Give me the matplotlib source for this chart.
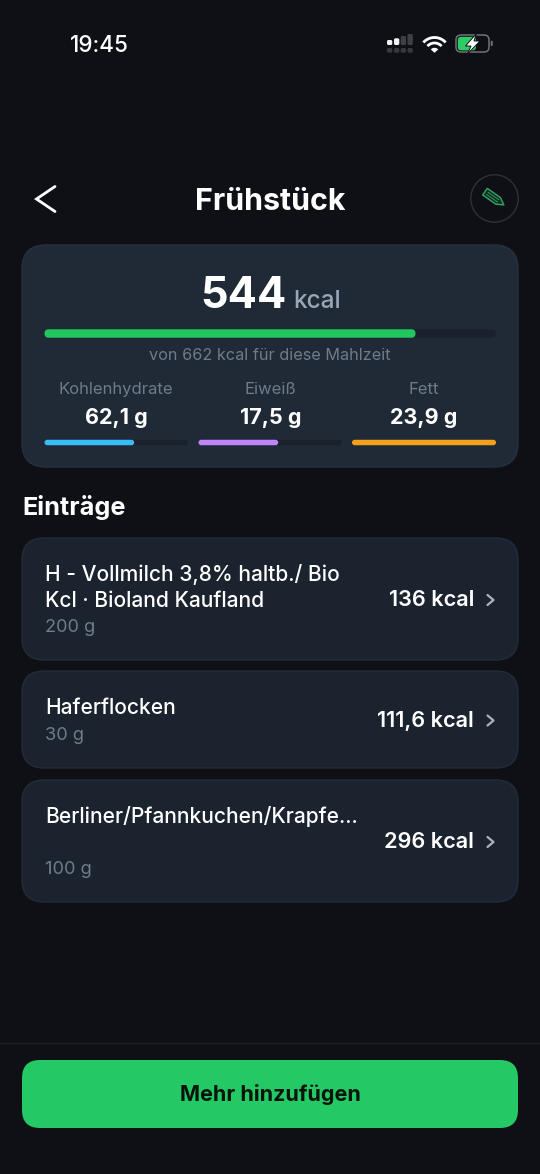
import numpy as np
import matplotlib
matplotlib.use("Agg")
import matplotlib.pyplot as plt
from matplotlib.patches import FancyBboxPatch, Circle, Polygon

plt.rcParams['font.family'] = ['Inter', 'DejaVu Sans']

# Data
kcal_eaten = 544
kcal_goal = 662
macro_names = ["Kohlenhydrate", "Eiweiß", "Fett"]
macro_values = [62.1, 17.5, 23.9]
macro_goals = [99.4, 31.5, 23.9]
macro_colors = ["#38bdf8", "#c084fc", "#f2a11c"]
entry_names = [["H - Vollmilch 3,8% haltb./ Bio", "Kcl · Bioland Kaufland"], ["Haferflocken"], ["Berliner/Pfannkuchen/Krapfe..."]]
entry_amounts = ["200 g", "30 g", "100 g"]
entry_kcal = ["136 kcal", "111,6 kcal", "296 kcal"]

BG = "#0e1015"
CARD = "#202a37"
ENTRY = "#1b232f"
TRACK = "#1a212b"
MUTED = "#707b8a"

fig = plt.figure(figsize=(5.4, 11.74), dpi=100, facecolor=BG)
ax = fig.add_axes([0, 0, 1, 1])
ax.set_xlim(0, 540)
ax.set_ylim(1174, 0)
ax.axis("off")

def rrect(x0, y0, x1, y1, r, fc, ec="none", lw=0, z=1):
    p = FancyBboxPatch((x0 + r, y0 + r), x1 - x0 - 2 * r, y1 - y0 - 2 * r,
                       boxstyle=f"round,pad={r},rounding_size={r}", fc=fc, ec=ec, lw=lw, zorder=z)
    ax.add_patch(p)

def txt(x, y, s, size, color="white", weight="normal", ha="center", va="baseline", **kw):
    return ax.text(x, y, s, fontsize=size, color=color, fontweight=weight, ha=ha, va=va, zorder=5, **kw)

def bar(x0, x1, y, h, frac, color):
    rrect(x0, y - h / 2, x1, y + h / 2, h / 2, TRACK, z=2)
    rrect(x0, y - h / 2, x0 + (x1 - x0) * min(frac, 1), y + h / 2, h / 2, color, z=3)

# Status bar
txt(99.5, 51.7, "19:45", 16.2, weight="medium")
sig_x = [387, 394, 400.7, 407.5]
sig_top = [40, 38.3, 36, 34]
sig_on = [1, 1, 0, 0]
for x, top, on in zip(sig_x, sig_top, sig_on):
    rrect(x, top, x + 5.3, 45, 1.5, "#f2f2f2" if on else "#3e4045", z=3)
    rrect(x, 48, x + 5.3, 52.7, 1.5, "#36383d", z=3)
# wifi
for r in [15, 9.5]:
    t = np.radians(np.linspace(222, 318, 30))
    ax.plot(434.5 + r * np.cos(t), 52.5 + r * np.sin(t), color="white", lw=2.0, solid_capstyle="butt", zorder=5)
t = np.radians(np.linspace(222, 318, 12))
ax.add_patch(Polygon(np.vstack([[434.5, 52.8], np.c_[434.5 + 5 * np.cos(t), 52.8 + 5 * np.sin(t)]]),
                     fc="white", ec="none", zorder=5))
# battery
rrect(456, 35, 489, 52, 5, "none", ec="#707276", lw=1.1, z=4)
rrect(457.8, 36.8, 476, 50.4, 3.5, "#2ecc65", z=4)
ax.add_patch(Polygon([[476.5, 33.5], [465.5, 46], [471, 46], [467.5, 54], [480, 41], [474, 41]],
                     fc="white", ec=BG, lw=0.7, zorder=6))
rrect(490.7, 40.7, 492.7, 46, 1, "#707276", z=4)

# Header
ax.plot([55, 36.5, 55], [186.5, 199, 211.5], color="white", lw=2.0, solid_joinstyle="miter", solid_capstyle="round", zorder=5)
txt(270, 210.2, "Frühstück", 21.9, weight="bold")
ax.add_patch(Circle((494.5, 198.5), 23.7, fc=BG, ec="#2d3238", lw=1, zorder=2))
ang = np.radians(35)
rot = np.array([[np.cos(ang), -np.sin(ang)], [np.sin(ang), np.cos(ang)]])
pen_local = np.array([[-11, -4], [5, -4], [12, 0], [5, 4], [-11, 4]])
ax.add_patch(Polygon(pen_local @ rot.T + [494, 198], fc="#14291f", ec="#2f9e63", lw=1.1, zorder=4, joinstyle="round"))
for v in [-1.3, 1.3]:
    seg = np.array([[-8, v], [5, v]]) @ rot.T + [494, 198]
    ax.plot(seg[:, 0], seg[:, 1], color="#2f9e63", lw=0.7, zorder=5)

# Summary card
rrect(22, 245, 518, 467, 24, CARD, ec="#27313e", lw=1)
txt(243.5, 308, str(kcal_eaten), 31.2, weight="bold")
txt(317, 308, "kcal", 17.5, color="#9aa5b5", weight="medium")
bar(44.5, 496, 333.5, 8.5, kcal_eaten / kcal_goal, "#22c55e")
txt(270, 359.5, f"von {kcal_goal} kcal für diese Mahlzeit", 11.7, color=MUTED)

macro_x = [(44.5, 188), (198.5, 342), (352, 496)]
for (x0, x1), n, v, g, c in zip(macro_x, macro_names, macro_values, macro_goals, macro_colors):
    xc = (x0 + x1) / 2
    txt(xc, 394, n, 12.0, color=MUTED)
    txt(xc, 423.7, f"{v:.1f} g".replace(".", ","), 15.5, weight="bold")
    bar(x0, x1, 442.5, 5.5, v / g, c)

# Entries
txt(22.5, 515, "Einträge", 18.2, weight="bold", ha="left")
cards = [(538, 660), (671, 768), (780, 902)]
for (y0, y1), lines, a, k in zip(cards, entry_names, entry_amounts, entry_kcal):
    rrect(22, y0, 518, y1, 22, ENTRY, ec="#232c38", lw=1)
    yc = (y0 + y1) / 2
    txt(474, yc + 7.2, k, 15.6, weight="semibold", ha="right")
    ax.plot([487.5, 493.5, 487.5], [yc - 4, yc + 1, yc + 6], color="#aab2bd", lw=1.6, zorder=5,
            solid_capstyle="round")
    for i, line in enumerate(lines):
        txt(45, y0 + 43 + 26 * i, line, 15.1, weight="medium", ha="left")
    txt(45, y1 - 28, a, 13.1, color=MUTED, ha="left")

# Bottom
ax.plot([0, 540], [1043, 1043], color="#1d2026", lw=1, zorder=2)
rrect(22, 1060, 518, 1128, 18, "#24c864")
txt(270, 1101.2, "Mehr hinzufügen", 15.5, color="#06140b", weight="bold")

fig.savefig("out.png", dpi=100, facecolor=BG)
